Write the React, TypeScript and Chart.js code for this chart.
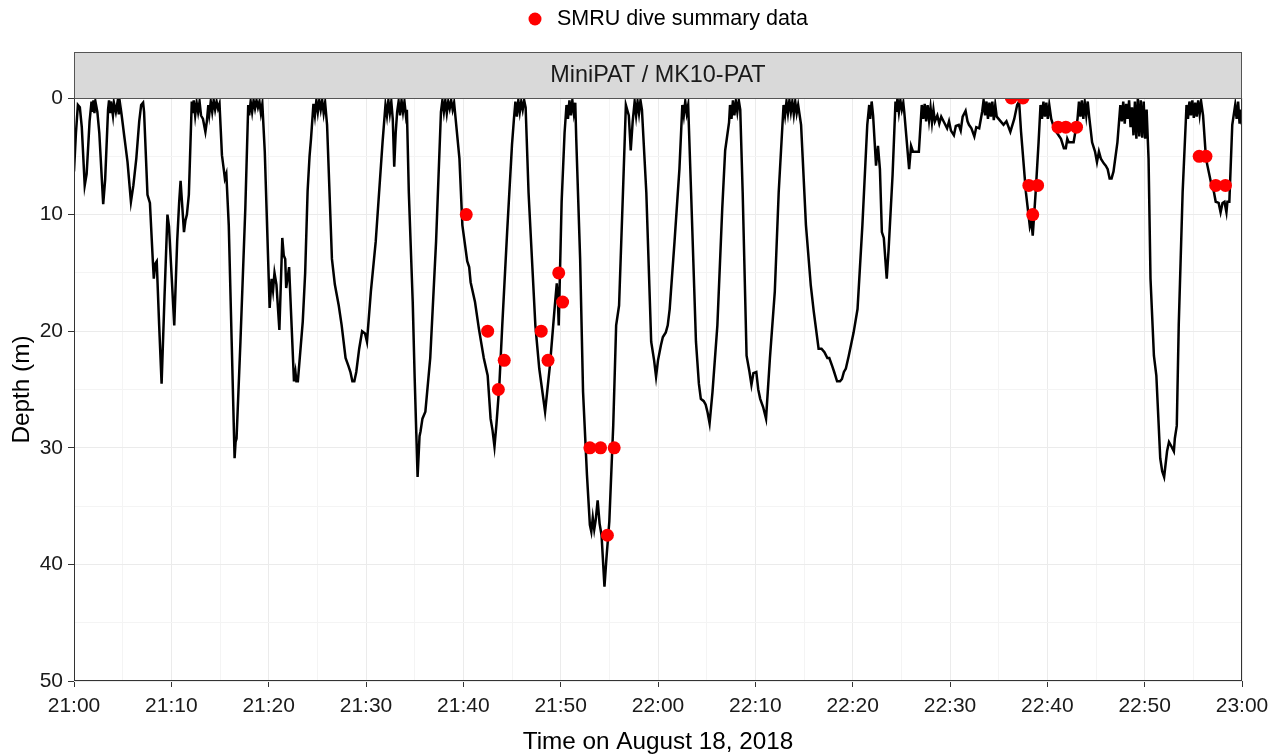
import React, { useEffect, useRef } from 'react';
import { Chart, registerables } from 'chart.js';

Chart.register(...registerables);

// ---- data -------------------------------------------------------------
const timeTickLabels = ['21:00', '21:10', '21:20', '21:30', '21:40', '21:50', '22:00', '22:10', '22:20', '22:30', '22:40', '22:50', '23:00'];
const depthTickLabels = ['0', '10', '20', '30', '40', '50'];
const panelTitle = 'MiniPAT / MK10-PAT';
const legendLabel = 'SMRU dive summary data';
const xTitle = 'Time on August 18, 2018';
const yTitle = 'Depth (m)';

// PAT depth trace: [minutes after 21:00, depth m]
const depthTrace: [number, number][] = [
  [0, 6.3], [0.2, 3], [0.4, 0.6], [0.6, 0.8], [0.8, 2.5], [1.1, 7.5], [1.3, 6.5], [1.6, 2], [1.8, 0.3], [1.9, 1.2], [2.0, 0.2], [2.1, 1.3], [2.2, 0.3], [2.4, 1.2], [2.6, 3], [3.0, 9.1], [3.2, 7], [3.5, 1], [3.6, 0.2], [3.7, 1.2], [3.8, 0.3], [4.0, 1.5], [4.1, 0.4], [4.3, 1.2], [4.5, 0.2], [4.6, 1.4], [4.7, 0.3], [4.9, 1.5],
  [5.2, 3.5], [5.5, 5.5], [5.85, 8.9], [6.1, 7.5], [6.4, 5.2], [6.7, 2], [6.9, 0.6], [7.1, 0.4], [7.2, 1.2], [7.55, 8.3], [7.8, 9], [8.1, 14], [8.2, 15.5], [8.35, 14.2], [8.5, 14], [8.75, 19.5], [9.0, 24.5], [9.3, 17], [9.6, 10], [9.76, 11], [10.3, 19.5], [10.6, 12.3], [10.8, 9], [10.95, 7.1], [11.1, 9], [11.3, 11.5], [11.45, 10.5], [11.6, 10], [11.8, 8.3], [12.1, 0.3],
  [12.2, 1.3], [12.3, 0.2], [12.45, 1.5], [12.6, 0.4], [12.75, 1.2], [12.9, 0.3], [13.05, 1.5], [13.25, 1.8], [13.5, 2.9], [13.65, 2], [13.8, 0.6], [13.9, 1.4], [14.05, 0.3], [14.2, 1.2], [14.35, 0.2], [14.5, 1.0], [14.65, 0.3], [14.8, 0.9], [14.95, 0.5],
  [15.2, 4.9], [15.4, 6.2], [15.5, 6.9], [15.65, 6.5], [15.9, 10.9], [16.2, 20.9], [16.5, 30.9], [16.6, 29.5], [16.7, 29.2], [17.1, 20.9], [17.6, 9.5], [17.9, 0.6],
  [18.0, 1.5], [18.15, 0.3], [18.3, 1.2], [18.45, 0.2], [18.6, 0.9], [18.75, 0.2], [18.9, 0.8], [19.05, 0.3], [19.2, 1.3], [19.35, 0.5],
  [19.6, 4.6], [20.1, 18], [20.3, 15.5], [20.45, 16.5], [20.6, 15], [20.8, 16], [21.1, 19.9], [21.4, 12], [21.55, 13.5], [21.7, 13.8], [21.8, 16.3], [22.1, 14.5], [22.6, 24.3], [22.75, 23.5], [22.85, 24.3], [23.0, 24.3], [23.5, 19.2], [23.75, 15], [24.0, 8], [24.2, 5], [24.35, 3.5], [24.6, 0.5],
  [24.75, 1.5], [24.9, 0.2], [25.05, 1.2], [25.2, 0.2], [25.35, 1.0], [25.5, 0.2], [25.65, 1.3], [25.8, 0.4],
  [26.0, 2.3], [26.5, 13.8], [26.8, 16], [27.2, 17.8], [27.5, 19.5], [27.9, 22.3], [28.2, 23], [28.4, 23.5], [28.6, 24.3], [28.8, 24.3], [29.0, 23.5], [29.3, 21.5], [29.6, 20], [29.9, 20.2], [30.1, 20.9], [30.5, 16.6], [31.0, 12.3], [31.7, 3.8], [32.0, 0.6],
  [32.15, 1.5], [32.3, 0.2], [32.45, 1.3], [32.6, 0.3], [32.75, 1.8], [32.9, 5.9], [33.05, 3], [33.2, 1.2], [33.35, 0.3], [33.5, 1.5], [33.65, 0.2], [33.8, 1.2], [33.95, 0.3], [34.1, 1.5], [34.2, 1.0],
  [34.4, 8.1], [34.8, 17.5], [35.0, 24], [35.3, 32.5], [35.5, 29], [35.6, 28.6], [35.8, 27.5], [36.1, 26.9], [36.6, 22.3], [37.2, 12.3], [37.7, 1.2],
  [37.85, 0.2], [38.0, 1.2], [38.15, 0.2], [38.3, 1.3], [38.45, 0.3], [38.6, 0.9], [38.75, 0.2], [38.9, 1.0], [39.05, 0.4],
  [39.6, 5.2], [39.9, 10.9], [40.4, 14], [40.6, 14.5], [40.75, 15.8], [41.2, 17.5], [41.6, 19.8], [42.1, 22.3], [42.5, 23.8], [42.8, 27.5], [43.0, 28.5], [43.2, 29.9], [43.4, 28], [43.7, 24.6], [44.0, 19.5], [44.5, 11.5], [45.0, 4], [45.2, 1.8],
  [45.35, 0.3], [45.5, 1.6], [45.65, 0.2], [45.8, 1.2], [45.95, 0.3], [46.1, 1.0], [46.25, 0.2], [46.4, 0.8],
  [46.7, 8.1], [47.4, 19.5], [47.8, 23.2], [48.4, 26.9], [48.9, 22.9], [49.4, 17.8], [49.6, 15.9], [49.7, 17], [49.8, 19.5], [50.1, 8.9], [50.4, 3], [50.6, 0.6],
  [50.75, 1.8], [50.9, 0.2], [51.05, 1.5], [51.2, 0.2], [51.35, 1.3], [51.5, 0.4],
  [51.6, 3.5], [52.0, 13.8], [52.3, 25.2], [52.7, 32.3], [53.0, 36.6], [53.15, 37.2], [53.3, 36], [53.45, 37], [53.6, 36.2], [53.8, 34.5], [54.0, 36.5], [54.2, 37.5], [54.5, 41.9], [54.7, 39.5], [55.0, 36.3], [55.4, 28.1], [55.7, 19.5], [56.0, 17.8], [56.4, 8.1], [56.7, 0.6], [56.9, 1.2], [57.0, 1.5], [57.2, 4.5], [57.4, 2], [57.6, 0.3],
  [57.75, 1.5], [57.9, 0.3], [58.05, 1.3], [58.2, 0.2], [58.35, 1.0],
  [58.8, 8.1], [59.3, 20.9], [59.6, 22.5], [59.8, 23.9], [60.0, 22.5], [60.3, 21.2], [60.5, 20.5], [60.8, 20.1], [61.0, 19.5], [61.2, 18.1], [61.7, 12.3], [62.2, 6.1], [62.5, 0.6],
  [62.65, 1.5], [62.8, 0.3], [62.95, 1.3], [63.1, 0.6],
  [63.4, 8.1], [63.9, 20.9], [64.2, 24.5], [64.4, 25.8], [64.7, 26], [64.9, 26.3], [65.1, 27], [65.3, 27.9], [65.6, 25.2], [66.1, 19.5], [66.6, 9.5], [66.9, 4.5], [67.3, 2.1], [67.4, 0.6],
  [67.55, 1.8], [67.7, 0.2], [67.85, 1.5], [68.0, 0.3], [68.15, 1.2], [68.3, 0.2], [68.45, 1.0],
  [68.7, 8.1], [69.1, 22.1], [69.4, 23.5], [69.6, 24.6], [69.8, 23.6], [70.1, 23.5], [70.3, 25], [70.5, 25.8], [70.8, 26.5], [71.1, 27.5], [71.5, 22.3], [72.0, 16.6], [72.4, 8.1], [72.9, 0.6],
  [73.05, 1.5], [73.2, 0.3], [73.35, 1.3], [73.5, 0.2], [73.65, 1.2], [73.8, 0.3], [73.95, 1.4], [74.1, 0.3], [74.25, 1.3], [74.4, 0.6],
  [74.7, 2.3], [75.2, 10.9], [75.7, 16.1], [76.0, 18.3], [76.5, 21.5], [76.8, 21.5], [77.1, 21.8], [77.4, 22.3], [77.6, 22.3], [77.9, 23], [78.1, 23.5], [78.4, 24.3], [78.7, 24.3], [78.9, 24.1], [79.1, 23.5], [79.3, 23.2], [79.6, 22.1], [80.1, 20.1], [80.5, 18.1], [81.0, 10.9], [81.5, 2.3], [81.7, 0.6],
  [81.8, 1.8], [81.95, 0.3], [82.1, 1.5],
  [82.4, 5.8], [82.6, 4.1], [82.8, 6.1], [83.0, 11.5], [83.2, 12], [83.5, 15.5], [83.7, 12.9], [84.1, 6.6], [84.4, 0.3],
  [84.5, 1.2], [84.6, 0], [84.75, 1.2], [84.9, 0.2], [85.05, 1.0], [85.2, 0.4], [85.3, 1.2],
  [85.8, 6.1], [86.0, 4.1], [86.2, 4.6], [86.5, 4.6], [86.8, 4.6], [87.1, 0.6],
  [87.25, 1.8], [87.4, 0.5], [87.55, 2], [87.7, 0.6], [87.85, 1.9], [88.0, 0.8], [88.15, 2.1], [88.3, 1.0], [88.45, 2.0], [88.7, 1.5], [88.9, 2.2], [89.1, 1.6], [89.4, 2.1], [89.7, 2.6], [89.9, 2.0], [90.1, 2.8], [90.4, 3.2], [90.6, 2.4], [90.9, 2.3], [91.1, 2.8], [91.3, 1.6], [91.6, 1.1], [91.8, 2.0], [91.95, 2.3], [92.2, 2.6], [92.5, 3.3], [92.7, 2.5], [93.0, 2.6], [93.3, 1.2],
  [93.45, 0.2], [93.6, 1.5], [93.75, 0.3], [93.9, 1.8], [94.05, 0.4], [94.2, 1.6], [94.35, 0.3], [94.5, 1.9], [94.65, 0.6], [94.8, 1.6], [95.1, 1.9], [95.5, 2.3], [95.8, 2.0], [96.2, 2.9],
  [96.6, 1.8], [96.9, 0.6], [97.1, 0.3], [97.3, 2.9], [97.8, 8.1], [98.2, 11], [98.35, 10.5], [98.5, 11.8], [98.8, 8.1], [99.1, 3.8], [99.3, 0.6],
  [99.45, 1.8], [99.6, 0.3], [99.75, 1.6], [99.9, 0.4], [100.05, 1.8], [100.2, 0.6], [100.4, 1.8],
  [100.7, 2.6], [101.0, 3.0], [101.4, 3.5], [101.7, 4.3], [101.9, 4.3], [102.05, 3.5], [102.2, 3.8], [102.5, 3.8], [102.7, 3.8], [103.1, 1.8],
  [103.25, 0.3], [103.4, 1.6], [103.55, 0.2], [103.7, 1.8], [103.85, 0.4], [104.0, 1.5], [104.15, 0.3], [104.3, 1.6],
  [104.6, 3.8], [104.9, 4.6], [105.1, 5.5], [105.3, 4.6], [105.5, 5.2], [105.8, 5.6], [106.0, 5.8], [106.2, 6.1], [106.4, 6.9], [106.6, 6.9], [106.8, 6.3], [107.2, 3.8], [107.5, 0.6],
  [107.65, 2.0], [107.8, 0.3], [107.95, 2.2], [108.1, 0.5], [108.25, 1.8], [108.4, 0.2], [108.55, 2.5], [108.7, 0.8], [108.85, 3.2], [109.0, 0.3], [109.15, 3.5], [109.3, 0], [109.45, 3.3], [109.6, 0.2], [109.75, 3.4], [109.9, 0.3], [110.05, 3.5], [110.2, 1.0],
  [110.4, 5.2], [110.6, 15.5], [110.95, 22.1], [111.2, 23.8], [111.6, 30.9], [111.8, 32], [112.0, 32.5], [112.3, 30.3], [112.5, 29.5], [112.7, 29.8], [113.0, 30.3], [113.1, 29.2], [113.3, 28.1], [113.5, 19.5], [113.9, 8.1], [114.3, 0.6],
  [114.45, 1.8], [114.6, 0.3], [114.75, 1.5], [114.9, 0.2], [115.05, 1.7], [115.2, 0.4], [115.35, 1.6], [115.5, 0.2], [115.65, 1.4], [115.8, 0.3], [116.0, 1.5],
  [116.3, 5.2], [116.8, 7.2], [117.1, 8], [117.3, 8.9], [117.6, 9.0], [117.8, 9.8], [118.0, 9.0], [118.2, 8.9], [118.4, 9.8], [118.5, 8.9], [118.7, 8.9], [119.0, 2.3], [119.3, 0.6],
  [119.45, 1.8], [119.6, 0.3], [119.75, 2.2], [119.9, 1.0], [120, 2.3],
];

// SMRU dive summary points
const smruMinutes = [40.3, 42.5, 43.6, 44.2, 48.0, 48.7, 49.8, 50.2, 53.0, 54.1, 55.5, 54.8, 96.3, 97.5, 98.1, 99.0, 98.5, 101.1, 101.9, 103.0, 115.6, 116.3, 117.3, 118.3];
const smruDepths = [10, 20, 25, 22.5, 20, 22.5, 15, 17.5, 30, 30, 30, 37.5, 0, 0, 7.5, 7.5, 10, 2.5, 2.5, 2.5, 5, 5, 7.5, 7.5];

// ---- chart -----------------------------------------------------------
const FONT = '"Liberation Sans", Arial, sans-serif';

const facetPlugin = {
  id: 'facetDecor',
  afterDraw(chart: any) {
    const { ctx, chartArea: a } = chart;
    ctx.save();
    // panel border
    ctx.strokeStyle = '#333333';
    ctx.lineWidth = 1;
    ctx.strokeRect(a.left + 0.5, a.top + 0.5, a.right - a.left - 1, a.bottom - a.top - 1);
    // strip
    const stripH = 46;
    const stripTop = a.top - stripH;
    ctx.fillStyle = '#D9D9D9';
    ctx.fillRect(a.left, stripTop, a.right - a.left, stripH);
    ctx.strokeStyle = '#555555';
    ctx.strokeRect(a.left + 0.5, stripTop + 0.5, a.right - a.left - 1, stripH);
    ctx.fillStyle = '#1A1A1A';
    ctx.font = `23.4px ${FONT}`;
    ctx.textAlign = 'center';
    ctx.textBaseline = 'middle';
    ctx.fillText(panelTitle, (a.left + a.right) / 2, stripTop + stripH / 2 + 1);
    // legend
    ctx.font = `21.5px ${FONT}`;
    ctx.fillStyle = '#FF0000';
    ctx.beginPath();
    ctx.arc(535, 19, 6.5, 0, Math.PI * 2);
    ctx.fill();
    ctx.fillStyle = '#000000';
    ctx.textAlign = 'left';
    ctx.fillText(legendLabel, 557, 19);
    ctx.restore();
  },
};

const isMajor = (v: number) => Math.round(v) % 10 === 0;

export default function App() {
  const canvasRef = useRef<HTMLCanvasElement | null>(null);

  useEffect(() => {
    document.body.style.margin = '0';
    const canvas = canvasRef.current;
    if (!canvas) return;
    const chart = new Chart(canvas, {
      type: 'scatter',
      data: {
        datasets: [
          {
            label: legendLabel,
            data: smruMinutes.map((m, i) => ({ x: m, y: smruDepths[i] })),
            backgroundColor: '#FF0000',
            borderWidth: 0,
            pointRadius: 6.5,
            pointHoverRadius: 6.5,
            showLine: false,
            order: 0,
          },
          {
            label: 'PAT depth',
            data: depthTrace.map(([m, d]) => ({ x: m, y: d })),
            borderColor: '#000000',
            borderWidth: 2.5,
            pointRadius: 0,
            showLine: true,
            tension: 0,
            order: 1,
          },
        ],
      },
      options: {
        responsive: false,
        animation: false,
        devicePixelRatio: 1,
        layout: { padding: { top: 98, right: 31, left: 0, bottom: 0 } },
        plugins: {
          legend: { display: false },
          tooltip: { enabled: false },
        },
        scales: {
          x: {
            type: 'linear',
            min: 0,
            max: 120,
            afterFit: (s: any) => { s.height = 73; s.paddingLeft = 0; s.paddingRight = 0; },
            ticks: {
              stepSize: 5,
              autoSkip: false,
              maxRotation: 0,
              padding: 7,
              color: '#1A1A1A',
              font: { size: 21, family: FONT },
              callback: (v: any) => (isMajor(Number(v)) ? timeTickLabels[Math.round(Number(v) / 10)] : ''),
            },
            grid: {
              color: (c: any) => (c.tick && isMajor(c.tick.value) ? '#EBEBEB' : '#F4F4F4'),
              lineWidth: 1,
              tickLength: 6,
              tickColor: (c: any) => (c.tick && isMajor(c.tick.value) ? '#333333' : 'rgba(0,0,0,0)'),
            },
            border: { display: false },
            title: {
              display: true,
              text: xTitle,
              color: '#000000',
              font: { size: 24.3, family: FONT, lineHeight: 1 },
              padding: 0,
            },
          },
          y: {
            type: 'linear',
            reverse: true,
            min: 0,
            max: 50,
            afterFit: (s: any) => { s.width = 74; s.paddingTop = 0; s.paddingBottom = 0; },
            ticks: {
              stepSize: 5,
              autoSkip: false,
              padding: 5,
              color: '#1A1A1A',
              font: { size: 21, family: FONT },
              callback: (v: any) => (isMajor(Number(v)) ? depthTickLabels[Math.round(Number(v) / 10)] : ''),
            },
            grid: {
              color: (c: any) => (c.tick && isMajor(c.tick.value) ? '#EBEBEB' : '#F4F4F4'),
              lineWidth: 1,
              tickLength: 6,
              tickColor: (c: any) => (c.tick && isMajor(c.tick.value) ? '#333333' : 'rgba(0,0,0,0)'),
            },
            border: { display: false },
            title: {
              display: true,
              text: yTitle,
              color: '#000000',
              font: { size: 24.3, family: FONT, lineHeight: 1.2 },
              padding: { top: 8, bottom: 0 },
            },
          },
        },
      },
      plugins: [facetPlugin],
    } as any);
    return () => chart.destroy();
  }, []);

  return (
    <div style={{ width: 1273, height: 754 }}>
      <canvas ref={canvasRef} width={1273} height={754} />
    </div>
  );
}
